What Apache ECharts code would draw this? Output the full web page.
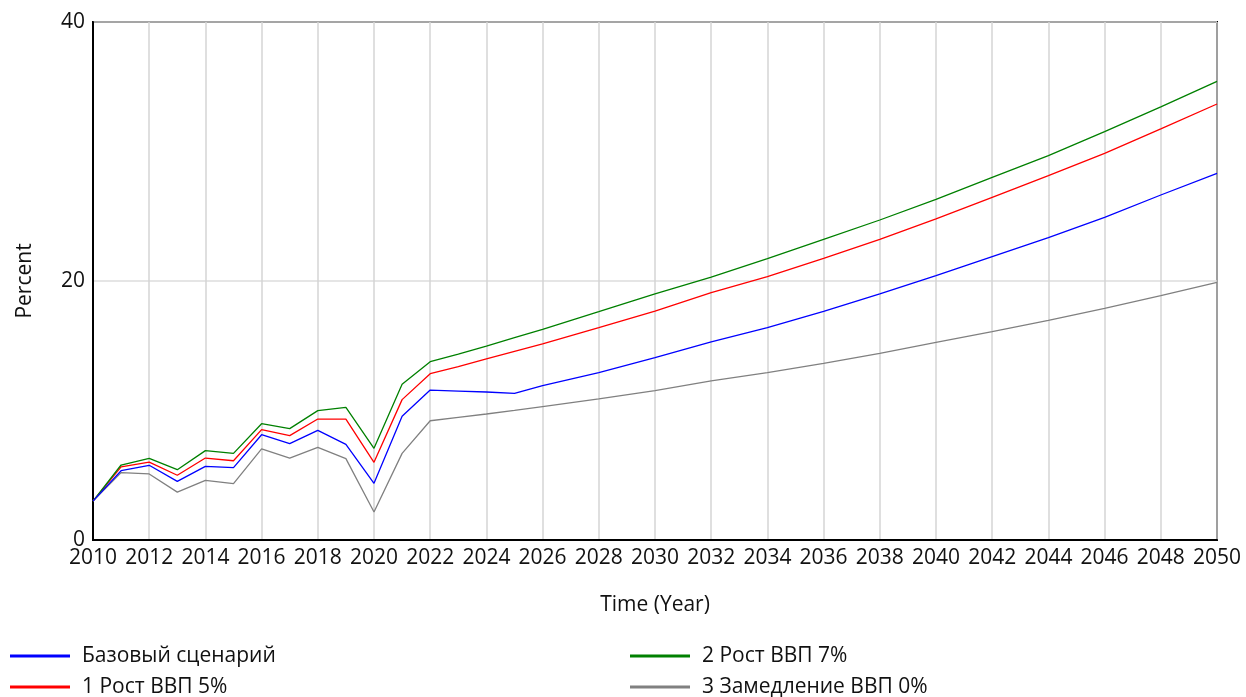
<!DOCTYPE html>
<html>
<head>
<meta charset="utf-8">
<script src="https://cdn.jsdelivr.net/npm/echarts@6/dist/echarts.min.js"></script>
<style>
  html, body { margin: 0; padding: 0; background: #fff; }
  #chart { width: 1246px; height: 697px; }
</style>
</head>
<body>
<div id="chart"></div>
<script>
// years (annual until 2026, then every 2 years)
const years = [2010, 2011, 2012, 2013, 2014, 2015, 2016, 2017, 2018, 2019, 2020, 2021, 2022,
  2023, 2024, 2025, 2026, 2028, 2030, 2032, 2034, 2036, 2038, 2040, 2042, 2044, 2046, 2048, 2050]

const base = [3.0, 5.35, 5.77, 4.53, 5.69, 5.59, 8.13, 7.44, 8.47, 7.39, 4.38, 9.55, 11.58,
  11.5, 11.43, 11.33, 11.92, 12.92, 14.08, 15.3, 16.4, 17.66, 19.0, 20.41, 21.88, 23.35, 24.92, 26.64, 28.31]
const growth5 = [3.0, 5.64, 6.02, 5.0, 6.33, 6.12, 8.52, 8.06, 9.34, 9.34, 6.0, 10.84, 12.84,
  13.38, 13.98, 14.57, 15.14, 16.4, 17.68, 19.1, 20.33, 21.75, 23.22, 24.79, 26.46, 28.13, 29.86, 31.74, 33.67]
const growth7 = [3.0, 5.79, 6.31, 5.43, 6.9, 6.69, 8.98, 8.6, 9.99, 10.24, 7.08, 12.02, 13.77,
  14.36, 14.98, 15.62, 16.27, 17.63, 19.0, 20.3, 21.72, 23.22, 24.71, 26.3, 28.0, 29.68, 31.53, 33.44, 35.42]
const slowdown = [3.0, 5.2, 5.1, 3.7, 4.61, 4.35, 7.03, 6.33, 7.16, 6.28, 2.16, 6.69, 9.21,
  9.47, 9.73, 10.01, 10.3, 10.89, 11.53, 12.29, 12.92, 13.64, 14.41, 15.26, 16.09, 16.96, 17.89, 18.87, 19.9]

const names = ['Базовый сценарий', '1 Рост ВВП 5%', '2 Рост ВВП 7%', '3 Замедление ВВП 0%']
const colors = ['#0000ff', '#ff0000', '#008000', '#808080']
const values = [base, growth5, growth7, slowdown]

const chart = echarts.init(document.getElementById('chart'))
const font = '"Open Sans", "Noto Sans", sans-serif'

// one legend per item so the 2x2 layout sits where it does in the picture
const legendAt = (name, left, top) => ({
  left, top,
  data: [name],
  icon: 'rect',
  itemWidth: 60,
  itemHeight: 3,
  textStyle: { fontFamily: font, fontSize: 21, lineHeight: 24, color: '#111', padding: [0, 0, 0, 7] }
})

chart.setOption({
  animation: false,
  color: colors,
  textStyle: { fontFamily: font },
  grid: {
    left: 93, right: 29, top: 22, bottom: 157,
    show: true, borderColor: '#000', borderWidth: 2
  },
  legend: [
    legendAt(names[0], 5, 639),
    legendAt(names[1], 5, 670),
    legendAt(names[2], 625, 639),
    legendAt(names[3], 625, 670)
  ],
  xAxis: {
    type: 'value',
    min: 2010, max: 2050, interval: 2,
    name: 'Time (Year)',
    nameLocation: 'middle',
    nameGap: 55,
    nameTextStyle: { fontSize: 21, color: '#111' },
    axisLine: { lineStyle: { color: '#000', width: 2 } },
    axisTick: { show: false },
    axisLabel: { fontSize: 21, color: '#111', margin: 8, formatter: v => String(v) },
    splitLine: { show: true, lineStyle: { color: '#d4d4d4', width: 1.5 } }
  },
  yAxis: {
    type: 'value',
    min: 0, max: 40, interval: 20,
    name: 'Percent',
    nameLocation: 'middle',
    nameGap: 57,
    nameTextStyle: { fontSize: 21, color: '#111' },
    axisLine: { show: true, lineStyle: { color: '#000', width: 2 } },
    axisTick: { show: false },
    axisLabel: { fontSize: 21, color: '#111', margin: 8 },
    splitLine: { show: true, lineStyle: { color: '#dcdcdc', width: 1.5 } }
  },
  series: values.map((v, i) => ({
    name: names[i],
    type: 'line',
    symbol: 'none',
    lineStyle: { width: 1.3, color: colors[i] },
    z: i === 0 ? 5 : 3,
    data: years.map((y, j) => [y, v[j]])
  }))
})
</script>
</body>
</html>
